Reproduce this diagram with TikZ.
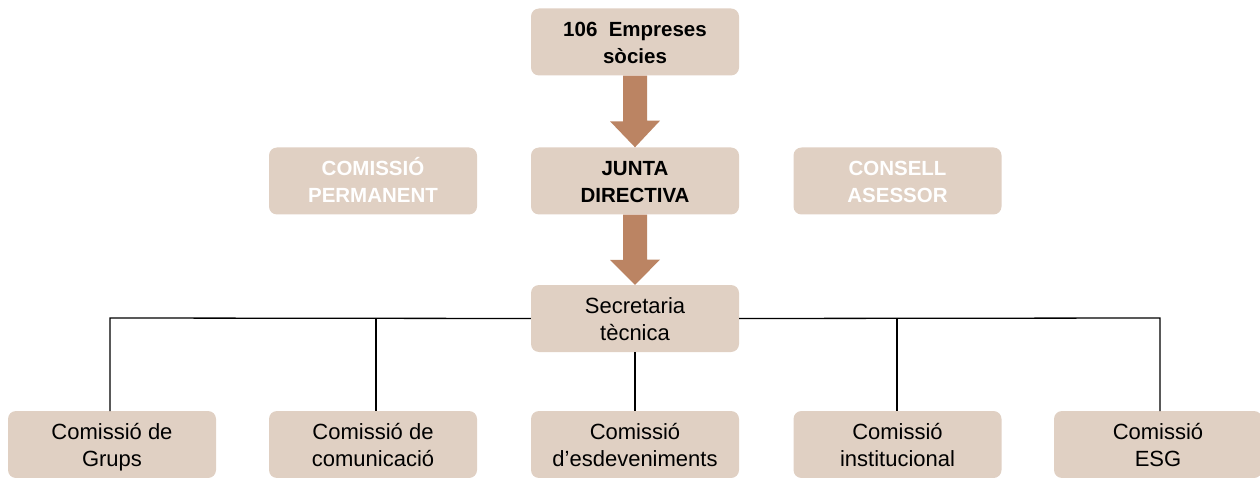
\documentclass[tikz,border=0pt]{standalone}
\usepackage{fontspec}
\setmainfont{Liberation Sans}
\definecolor{boxfill}{HTML}{E0D0C3}
\definecolor{arrowfill}{HTML}{BB8463}
\newcommand\mytopstrut{\rule{0pt}{25pt}}
\begin{document}
\begin{tikzpicture}[x=1pt,y=-1pt,
  box/.style={fill=boxfill, draw=none, rounded corners=8pt, minimum width=208pt, minimum height=67pt, align=center, inner sep=0pt, font=\fontsize{22}{27}\selectfont},
  boldbox/.style={box, font=\fontsize{20.5}{27}\selectfont\bfseries},
  whitebox/.style={boldbox, text=white},
  conn/.style={draw=black, line width=1.3pt},
  bigarrow/.style={fill=arrowfill, draw=none}
]
\useasboundingbox (0,0) rectangle (1260,478);
\node[boldbox] (socies) at (635,42) {\mytopstrut 106\ \ Empreses\\\strut sòcies};
\node[boldbox] (junta) at (635,181) {\mytopstrut JUNTA\\\strut DIRECTIVA};
\node[whitebox] (perm) at (373,181) {\mytopstrut COMISSIÓ\\\strut PERMANENT};
\node[whitebox] (cons) at (897.5,181) {\mytopstrut CONSELL\\\strut ASESSOR};
\node[box] (secr) at (635,318.5) {\mytopstrut Secretaria\\\strut tècnica};
\node[box] (c1) at (112,444.5) {\mytopstrut Comissió de\\\strut Grups};
\node[box] (c2) at (373,444.5) {\mytopstrut Comissió de\\\strut comunicació};
\node[box] (c3) at (635,444.5) {\mytopstrut Comissió\\\strut d’esdeveniments};
\node[box] (c4) at (897.5,444.5) {\mytopstrut Comissió\\\strut institucional};
\node[box] (c5) at (1158,444.5) {\mytopstrut Comissió\\\strut ESG};
% big arrows
\fill[bigarrow] ([xshift=-12pt]socies.south) -- ([xshift=12pt]socies.south) -- ++(0,45) -- ++(13,0) -- (junta.north) -- ++(-25,-26) -- ++(13,0) -- cycle;
\fill[bigarrow] ([xshift=-12pt]junta.south) -- ([xshift=12pt]junta.south) -- ++(0,45) -- ++(13,0) -- (secr.north) -- ++(-25,-25) -- ++(13,0) -- cycle;
% connectors
\draw[conn] (secr.west) -- (110,318) -- (110,411);
\draw[conn] (secr.east) -- (1160,318) -- (1160,411);
\draw[conn] (376,318) -- (376,411);
\draw[conn] (897,318) -- (897,411);
\draw[conn] (secr.south) -- (c3.north);
\end{tikzpicture}
\end{document}
